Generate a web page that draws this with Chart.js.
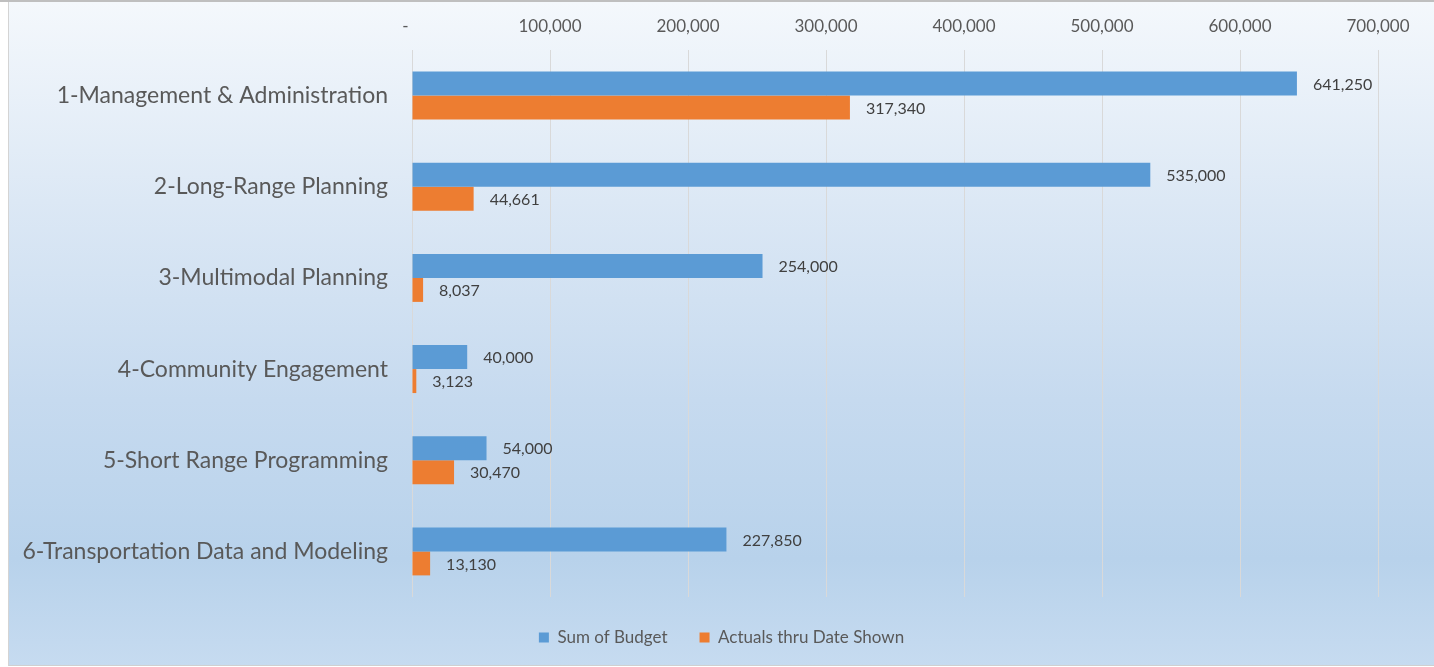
<!DOCTYPE html>
<html>
<head>
<meta charset="utf-8">
<script src="https://cdn.jsdelivr.net/npm/chart.js@4"></script>
<style>
  html, body { margin: 0; padding: 0; background: #fff; }
  #page { position: relative; width: 1434px; height: 667px; border-top: 2px solid #bfbfbf; box-sizing: border-box; }
  #frame {
    position: absolute; left: 8px; top: 0; width: 1426px; height: 664px;
    border-left: 1px solid #d4d4d4; border-bottom: 1px solid #d0d0d0; box-sizing: border-box;
    background: linear-gradient(to bottom, #f4f8fc 0%, #dce8f5 30%, #c6daef 60%, #b8d2eb 84%, #c6dbf0 100%);
  }
  #chart { position: absolute; left: 0; top: 0; }
</style>
</head>
<body>
<div id="page">
  <div id="frame">
    <canvas id="chart" width="1425" height="663"></canvas>
  </div>
</div>
<script>
// Chart data
const categories = [
    '1-Management & Administration',
    '2-Long-Range Planning',
    '3-Multimodal Planning',
    '4-Community Engagement',
    '5-Short Range Programming',
    '6-Transportation Data and Modeling'
];
const budget = [641250, 535000, 254000, 40000, 54000, 227850];
const actuals = [317340, 44661, 8037, 3123, 30470, 13130];
const seriesNames = ['Sum of Budget', 'Actuals thru Date Shown'];
const tickMax = 700000;
const tickStep = 100000;

const fontFamily = 'Lato, "Open Sans", sans-serif';

function formatNumber(v) {
    if (v === 0) return '-   ';
    return v.toLocaleString('en-US');
}

// Draws the value next to the end of each bar
const valueLabels = {
    id: 'valueLabels',
    afterDatasetsDraw(chart) {
        const ctx = chart.ctx;
        ctx.save();
        ctx.font = '16px ' + fontFamily;
        ctx.fillStyle = '#404040';
        ctx.textAlign = 'left';
        ctx.textBaseline = 'middle';
        chart.data.datasets.forEach((ds, i) => {
            const meta = chart.getDatasetMeta(i);
            meta.data.forEach((bar, j) => {
                ctx.fillText(formatNumber(ds.data[j]), bar.x + 16, bar.y + 1);
            });
        });
        ctx.restore();
    }
};

const ctx = document.getElementById('chart').getContext('2d');
new Chart(ctx, {
    type: 'bar',
    data: {
        labels: categories,
        datasets: [
            { label: seriesNames[0], data: budget, backgroundColor: '#5b9bd5' },
            { label: seriesNames[1], data: actuals, backgroundColor: '#ed7d31' }
        ]
    },
    options: {
        indexAxis: 'y',
        responsive: false,
        animation: false,
        categoryPercentage: 0.526,
        barPercentage: 1.0,
        layout: { padding: { left: 0, right: 0, top: 0, bottom: 9 } },
        scales: {
            x: {
                position: 'top',
                min: 0,
                max: tickMax,
                afterFit: s => { s.height = 48; },
                ticks: {
                    stepSize: tickStep,
                    padding: 13,
                    color: '#595959',
                    font: { family: fontFamily, size: 17 },
                    callback: v => formatNumber(v)
                },
                grid: { color: '#d9d9d9', drawTicks: false, lineWidth: 1 },
                border: { display: false }
            },
            y: {
                afterFit: s => { s.width = 403; },
                ticks: {
                    padding: 16,
                    color: '#595959',
                    font: { family: fontFamily, size: 23 }
                },
                grid: { display: false },
                border: { display: false }
            },
            y2: {
                type: 'linear',
                position: 'right',
                afterFit: s => { s.width = 56; },
                ticks: { display: false },
                grid: { display: false },
                border: { display: false }
            }
        },
        plugins: {
            legend: {
                position: 'bottom',
                labels: {
                    boxWidth: 10,
                    boxHeight: 10,
                    padding: 32,
                    color: '#595959',
                    font: { family: fontFamily, size: 17 }
                }
            },
            tooltip: { enabled: false }
        }
    },
    plugins: [valueLabels]
});
</script>
</body>
</html>
